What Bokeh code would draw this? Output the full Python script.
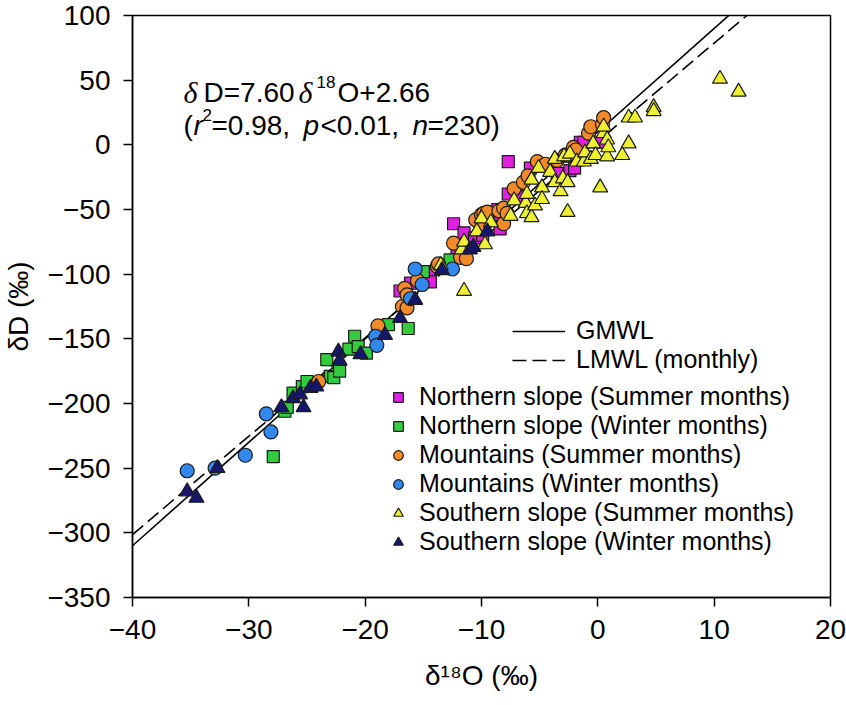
from bokeh.plotting import figure
from bokeh.models import Legend, LegendItem, Label, FixedTicker, Range1d
from bokeh.embed import file_html
from bokeh.resources import INLINE

# ---------------- data ----------------
x_ticks = [-40, -30, -20, -10, 0, 10, 20]
x_tick_labels = ["\u221240", "\u221230", "\u221220", "\u221210", "0", "10", "20"]
y_ticks = [-350, -300, -250, -200, -150, -100, -50, 0, 50, 100]
y_tick_labels = ["\u2212350", "\u2212300", "\u2212250", "\u2212200", "\u2212150", "\u2212100", "\u221250", "0", "50", "100"]

gmwl_slope, gmwl_intercept = 8.0, 10.0
lmwl_slope, lmwl_intercept = 7.60, 2.66
line_x = [-40, 20]

ns_summer_x = [-17.0, -16.1, -14.4, -14.4, -12.1, -12.4, -11.5, -10.6, -10.1, -9.9, -8.8, -8.6,
               -8.4, -8.4, -7.7, -7.7, -6.5, -5.8, -3.5, -2.4, -2.0, -1.5, -1.2, 0.1]
ns_summer_y = [-113, -107, -98, -106, -85, -61, -68, -72, -65, -70, -52, -50,
               -54, -65, -38, -13, -40, -18, -22, -20, -18, 2, 2, 2]

ns_winter_x = [-27.9, -26.9, -26.7, -26.2, -25.4, -25.0, -23.3, -23.0, -22.7, -22.2, -21.4,
               -20.9, -20.6, -19.9, -18.0, -16.3, -15.0, -12.7]
ns_winter_y = [-241, -206, -203, -192, -187, -183, -166, -179, -180, -175, -158,
               -148, -156, -161, -139, -142, -98, -89]

mt_summer_x = [-24.0, -18.9, -16.8, -16.6, -16.4, -16.4, -15.5, -13.8, -13.7, -12.4, -11.8, -11.3,
               -10.5, -10.0, -9.8, -9.8, -9.5, -8.5, -8.1, -8.1, -7.8, -7.2, -6.4, -6.0, -5.2,
               -4.5, -3.5, -2.8, -2.6, -2.1, -1.9, -0.8, -0.6, 0.4, 0.5]
mt_summer_y = [-183, -140, -125, -111, -116, -126, -105, -94, -92, -76, -87, -88,
               -58, -54, -62, -53, -52, -51, -61, -49, -53, -34, -29, -24, -13,
               -15, -12, -8, -8, -2, -4, 9, 14, 16, 21]

mt_winter_x = [-35.3, -32.9, -30.3, -28.5, -28.1, -19.1, -19.0, -16.1, -15.7, -15.1, -12.5]
mt_winter_y = [-252, -250, -240, -208, -222, -148, -155, -119, -96, -108, -96]

ss_summer_x = [-13.5, -11.7, -11.5, -11.5, -10.4, -10.0, -9.7, -9.2, -7.5, -7.2, -6.2, -6.1,
               -6.1, -5.7, -5.7, -5.4, -5.1, -4.8, -4.8, -4.1, -3.7, -3.7, -3.2, -3.0,
               -2.9, -2.6, -2.6, -2.4, -1.8, -1.2, -1.1, -0.6, -0.4, -0.2, 0.2, 0.5,
               0.5, 0.8, 0.8, 0.9, 2.1, 2.65, 2.65, 3.2, 4.8, 4.8, 10.5, 12.1]
ss_summer_y = [-93, -81, -75, -113, -67, -57, -77, -60, -55, -43, -45, -38,
               -53, -27, -56, -47, -18, -33, -42, -21, -11, -29, -36, -26,
               -9, -29, -52, -7, -13, -13, -6, -11, 1, -8, -33, 9,
               14, -9, 4, -2, -8, 1, 21, 21, 29, 26, 51, 41]

ss_winter_x = [-35.3, -34.5, -32.7, -27.2, -26.2, -25.6, -25.3, -24.7, -24.2, -22.3, -22.2,
               -20.4, -18.3, -17.0, -15.7, -13.4, -11.0, -10.7, -9.5]
ss_winter_y = [-268, -273, -250, -203, -196, -193, -203, -188, -187, -160, -167,
               -162, -147, -134, -120, -97, -81, -79, -67]

# ---------------- figure ----------------
FONT = "Liberation Sans"
p = figure(width=846, height=705, x_range=Range1d(-40, 20), y_range=Range1d(-350, 100),
           output_backend="svg", toolbar_location=None,
           min_border_left=132, min_border_right=16, min_border_top=15, min_border_bottom=108)
p.grid.visible = False
p.outline_line_color = "black"
p.outline_line_width = 1.5
p.background_fill_color = "white"

for ax, ticks, labels in ((p.xaxis, x_ticks, x_tick_labels), (p.yaxis, y_ticks, y_tick_labels)):
    ax.ticker = FixedTicker(ticks=ticks)
    ax.major_label_overrides = {t: l for t, l in zip(ticks, labels)}
    ax.minor_tick_line_color = None
    ax.major_tick_in = 0
    ax.major_tick_out = 9
    ax.major_tick_line_width = 1.5
    ax.axis_line_width = 1.5
    ax.major_label_text_font = FONT
    ax.major_label_text_font_size = "28px"
    ax.major_label_text_color = "black"
    ax.major_label_standoff = 13
    ax.axis_label_text_font = FONT
    ax.axis_label_text_font_size = "28px"
    ax.axis_label_text_font_style = "normal"
    ax.axis_label_text_color = "black"

p.xaxis.axis_label = "\u03b4\u00b9\u2078O (\u2030)"
p.xaxis.axis_label_standoff = 18
p.yaxis.axis_label = "\u03b4D (\u2030)"
p.yaxis.axis_label_standoff = 10

# lines
gy = [gmwl_slope * x + gmwl_intercept for x in line_x]
ly = [lmwl_slope * x + lmwl_intercept for x in line_x]
r_g = p.line(line_x, gy, line_color="black", line_width=1.6)
r_l = p.line(line_x, ly, line_color="black", line_width=1.6, line_dash="14 6")

OUT = "#1a1a1a"
r1 = p.scatter(ns_summer_x, ns_summer_y, marker="square", size=12, fill_color="#E020E0", line_color=OUT, line_width=1.2)
r2 = p.scatter(ns_winter_x, ns_winter_y, marker="square", size=12, fill_color="#33CC3F", line_color=OUT, line_width=1.2)
r3 = p.scatter(mt_summer_x, mt_summer_y, marker="circle", size=14, fill_color="#F28A2A", line_color=OUT, line_width=1.2)
r4 = p.scatter(mt_winter_x, mt_winter_y, marker="circle", size=14, fill_color="#3388EE", line_color=OUT, line_width=1.2)
r5 = p.scatter(ss_summer_x, ss_summer_y, marker="triangle", size=15, fill_color="#EEF032", line_color=OUT, line_width=1.2)
r6 = p.scatter(ss_winter_x, ss_winter_y, marker="triangle", size=15, fill_color="#16166E", line_color=OUT, line_width=1.2)

leg1 = Legend(items=[LegendItem(label="GMWL", renderers=[r_g]),
                     LegendItem(label="LMWL (monthly)", renderers=[r_l])],
              location=(380, 223), glyph_width=53, glyph_height=20, label_height=20,
              spacing=0, padding=0, margin=0, border_line_color=None,
              background_fill_alpha=0, label_text_font=FONT, label_text_font_size="25px",
              label_text_color="black", label_standoff=11)
leg2 = Legend(items=[LegendItem(label="Northern slope (Summer months)", renderers=[r1]),
                     LegendItem(label="Northern slope (Winter months)", renderers=[r2]),
                     LegendItem(label="Mountains (Summer months)", renderers=[r3]),
                     LegendItem(label="Mountains (Winter months)", renderers=[r4]),
                     LegendItem(label="Southern slope (Summer months)", renderers=[r5]),
                     LegendItem(label="Southern slope (Winter months)", renderers=[r6])],
              location=(252, 41), glyph_width=28, glyph_height=24, label_height=20,
              spacing=0, padding=0, margin=0, border_line_color=None,
              background_fill_alpha=0, label_text_font=FONT, label_text_font_size="25px",
              label_text_color="black", label_standoff=7)
p.add_layout(leg1)
p.add_layout(leg2)

# ---------------- regression annotation (rich text pieces) ----------------
def piece(text, x, y, size="28px", font=FONT, style="normal"):
    p.add_layout(Label(x=x, y=y, x_units="screen", y_units="screen", text=text,
                       text_font=font, text_font_style=style, text_font_size=size,
                       text_color="black", text_baseline="alphabetic"))

SERIF = "Liberation Serif"
x0, b1, b2 = 51, 505, 472
piece("\u03b4", x0 + 0, b1, font=SERIF, style="italic", size="30px")
piece("D=7.60", x0 + 20, b1)
piece("\u03b4", x0 + 115, b1, font=SERIF, style="italic", size="30px")
piece("18", x0 + 133, b1 + 11, size="17px")
piece("O+2.66", x0 + 154, b1)

piece("(", x0 + 0, b2)
piece("r", x0 + 10, b2, style="italic")
piece("2", x0 + 19, b2 + 11, size="17px")
piece("=0.98,", x0 + 28, b2)
piece("p", x0 + 120, b2, style="italic")
piece("<0.01,", x0 + 137, b2)
piece("n", x0 + 229, b2, style="italic")
piece("=230)", x0 + 244, b2)

open("out.html", "w").write(file_html(p, INLINE))
